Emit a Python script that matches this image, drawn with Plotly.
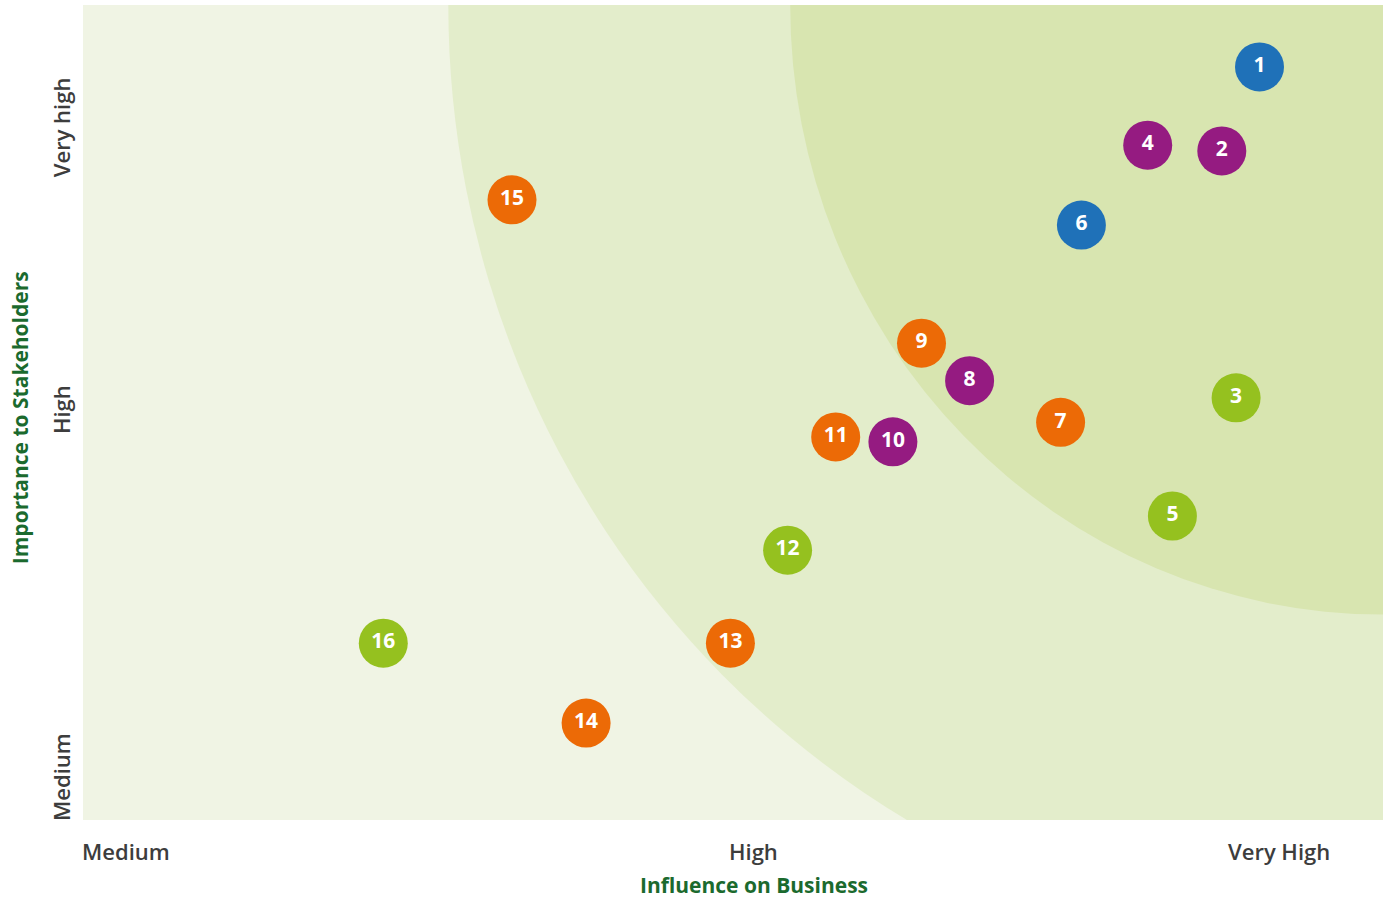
import plotly.graph_objects as go

# ---- data ----
labels = ["1", "2", "3", "4", "5", "6", "7", "8", "9", "10", "11", "12", "13", "14", "15", "16"]
influence = [90.5, 87.6, 88.7, 81.9, 83.8, 76.8, 75.2, 68.2, 64.5, 62.3, 57.9, 54.2, 49.8, 38.7, 33.0, 23.1]
importance = [92.4, 82.1, 51.8, 82.8, 37.3, 73.0, 48.8, 53.9, 58.5, 46.4, 47.0, 33.1, 21.7, 11.9, 76.1, 21.7]
groups = ["blue", "purple", "lime", "purple", "lime", "blue", "orange", "purple", "orange",
          "purple", "orange", "lime", "orange", "orange", "orange", "lime"]

x_tick_labels = ["Medium", "High", "Very High"]
x_tick_pos = [0.0, 51.6, 92.0]
y_tick_labels = ["Medium", "High", "Very high"]
y_tick_pos = [0.0, 50.3, 85.0]

# zone ellipses centred on the top-right corner (x radius, y radius)
zone_radii = [(71.9, 116.2), (45.6, 74.8)]

# ---- styles ----
group_colors = {"blue": "#1f71b8", "purple": "#951b81", "orange": "#ec6a06", "lime": "#95c11f"}
zone_colors = ["#e3edcb", "#d8e5b0"]
bg_color = "#f0f4e4"
title_green = "#1b6a2e"
tick_gray = "#3d3d3d"
FONT = "Open Sans"

fig = go.Figure()

fig.add_trace(go.Scatter(
    x=influence, y=importance, mode="markers+text",
    text=labels, textposition="middle center",
    textfont=dict(family=FONT, size=21, color="white", weight="bold"),
    marker=dict(size=49, color=[group_colors[g] for g in groups], line=dict(width=0)),
    hoverinfo="skip", showlegend=False, cliponaxis=False,
))

shapes = []
for (rx, ry), col in zip(zone_radii, zone_colors):
    shapes.append(dict(type="circle", xref="x", yref="y",
                       x0=100 - rx, x1=100 + rx, y0=100 - ry, y1=100 + ry,
                       fillcolor=col, line=dict(width=0), layer="below"))

annotations = []
for i, (lab, pos) in enumerate(zip(x_tick_labels, x_tick_pos)):
    annotations.append(dict(x=pos, y=0, xref="x", yref="paper", text=lab, showarrow=False,
                            xanchor="left" if i == 0 else "center", yanchor="middle", yshift=-31,
                            xshift=-3 if i == 0 else 0,
                            font=dict(family=FONT, size=22, color=tick_gray, weight=600)))
for i, (lab, pos) in enumerate(zip(y_tick_labels, y_tick_pos)):
    annotations.append(dict(x=0, y=pos, xref="paper", yref="y", text=lab, showarrow=False,
                            textangle=-90, xanchor="center",
                            yanchor="bottom" if i == 0 else "middle", xshift=-22,
                            yshift=-3 if i == 0 else 0,
                            font=dict(family=FONT, size=22, color=tick_gray, weight=600)))
annotations.append(dict(x=51.6, y=0, xref="x", yref="paper", text="Influence on Business",
                        showarrow=False, xanchor="center", yanchor="middle", yshift=-65,
                        font=dict(family=FONT, size=21, color=title_green, weight="bold")))
annotations.append(dict(x=0, y=49.3, xref="paper", yref="y", text="Importance to Stakeholders",
                        showarrow=False, textangle=-90, xanchor="center", yanchor="middle",
                        xshift=-63,
                        font=dict(family=FONT, size=21, color=title_green, weight="bold")))

fig.update_layout(
    width=1383, height=898,
    margin=dict(l=83, r=0, t=5, b=78),
    paper_bgcolor="white", plot_bgcolor=bg_color,
    shapes=shapes, annotations=annotations,
    xaxis=dict(range=[0, 100], showgrid=False, zeroline=False, showticklabels=False,
               fixedrange=True, showline=False),
    yaxis=dict(range=[0, 100], showgrid=False, zeroline=False, showticklabels=False,
               fixedrange=True, showline=False),
)

fig.write_html("out.html", config={"displayModeBar": False},
               post_script="document.body.style.margin='0';document.body.style.overflow='hidden';")
